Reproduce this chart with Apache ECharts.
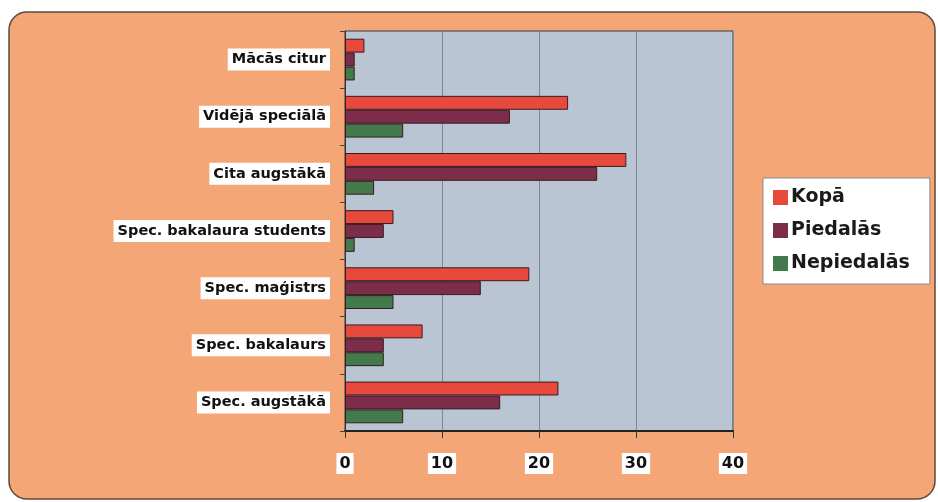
<!DOCTYPE html>
<html>
<head>
<meta charset="utf-8">
<script src="https://cdn.jsdelivr.net/npm/echarts@6/dist/echarts.min.js"></script>
<style>
html,body{margin:0;padding:0;background:#fff;}
#chart{width:938px;height:502px;}
</style>
</head>
<body>
<div id="chart"></div>
<script>
//kategorijas (no augšas uz leju)
var categories = ['Mācās citur', 'Vidējā speciālā', 'Cita augstākā', 'Spec. bakalaura students', 'Spec. maģistrs', 'Spec. bakalaurs', 'Spec. augstākā'];
var seriesNames = ['Kopā', 'Piedalās', 'Nepiedalās'];
var kopa = [2, 23, 29, 5, 19, 8, 22];
var piedalas = [1, 17, 26, 4, 14, 4, 16];
var nepiedalas = [1, 6, 3, 1, 5, 4, 6];
var xTicks = [0, 10, 20, 30, 40];

var colors = ['#e8493d', '#7b2d4a', '#437a4c'];
var font = 'DejaVu Sans';

var myChart = echarts.init(document.getElementById('chart'));
var option = {
    backgroundColor: '#fff',
    animation: false,
    graphic: [{
        type: 'rect',
        z: -10,
        shape: {x: 9, y: 12, width: 926, height: 487, r: 18},
        style: {fill: '#f4a676', stroke: '#5e4a3a', lineWidth: 1.5}
    }],
    grid: {
        left: 345, right: 205, top: 31, bottom: 71,
        show: true,
        backgroundColor: '#b9c5d3',
        borderColor: '#3a3a3a',
        borderWidth: 1
    },
    legend: {
        orient: 'vertical',
        left: 763, top: 178,
        padding: [10, 20, 11, 10],
        itemGap: 14,
        itemWidth: 15, itemHeight: 15,
        backgroundColor: '#fff',
        borderColor: '#8a8a8a',
        borderWidth: 1,
        icon: 'rect',
        itemStyle: {borderWidth: 0},
        textStyle: {fontFamily: font, fontWeight: 'bold', fontSize: 19, color: '#1a1a1a', padding: [0, 0, 0, -2]},
        data: seriesNames
    },
    xAxis: {
        type: 'value',
        min: xTicks[0], max: xTicks[xTicks.length - 1], interval: 10,
        axisLine: {show: true, lineStyle: {color: '#222', width: 2}},
        axisTick: {show: true, length: 7, lineStyle: {color: '#333'}},
        splitLine: {show: true, lineStyle: {color: '#7d8898', width: 1}},
        axisLabel: {
            margin: 22,
            fontFamily: font, fontWeight: 'bold', fontSize: 16, color: '#111',
            backgroundColor: '#fff', padding: [3, 3, 2, 3]
        }
    },
    yAxis: {
        type: 'category',
        inverse: true,
        data: categories,
        axisLine: {show: true, lineStyle: {color: '#333', width: 1}},
        axisTick: {show: true, length: 5, lineStyle: {color: '#444'}},
        axisLabel: {
            margin: 15,
            fontFamily: font, fontWeight: 'bold', fontSize: 14.5, color: '#111',
            backgroundColor: '#fff', padding: [4, 4, 3, 4]
        }
    },
    series: [kopa, piedalas, nepiedalas].map(function (d, i) {
        return {
            name: seriesNames[i],
            type: 'bar',
            data: d,
            barGap: '0%',
            barCategoryGap: '27%',
            itemStyle: {color: colors[i], borderColor: '#3a1a20', borderWidth: 1}
        };
    })
};
myChart.setOption(option);
</script>
</body>
</html>
